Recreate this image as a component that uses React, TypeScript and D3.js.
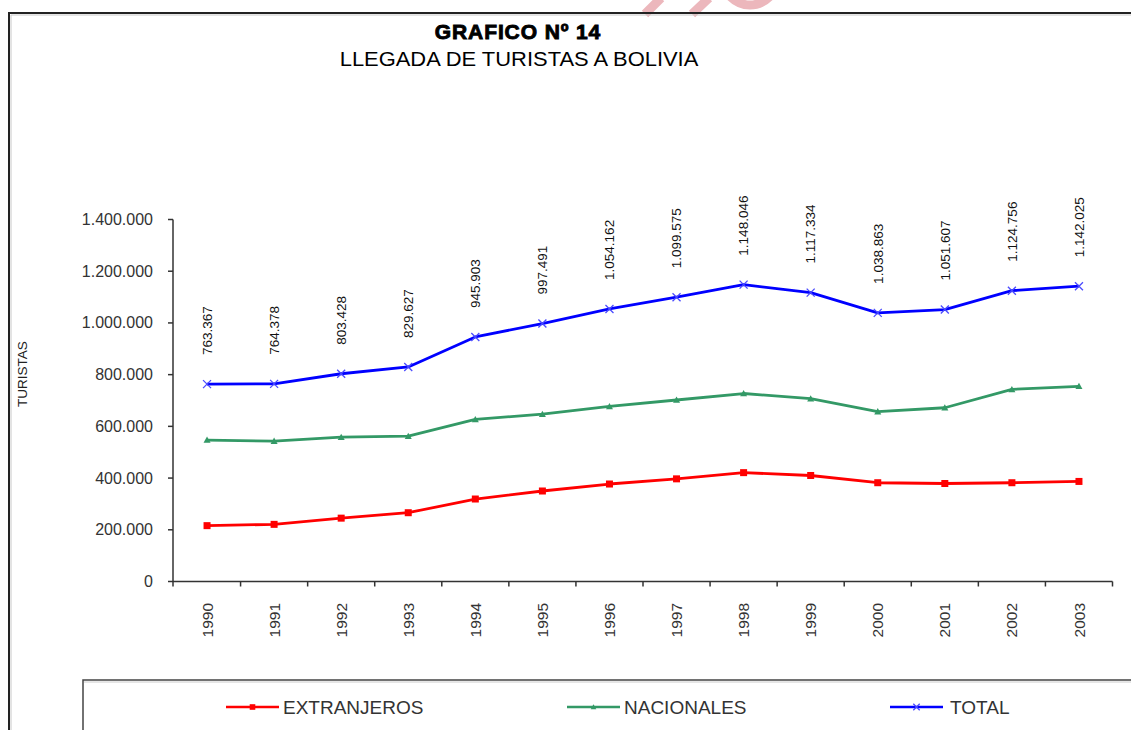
import React from "react";
import * as d3 from "d3";

const years = ["1990","1991","1992","1993","1994","1995","1996","1997","1998","1999","2000","2001","2002","2003"];
const extranjeros = [216000, 221000, 245000, 266000, 319000, 350000, 377000, 397000, 421000, 410000, 382000, 379000, 382000, 387000];
const nacionales = [547000, 543000, 558000, 562000, 627000, 647000, 677000, 702000, 727000, 707000, 657000, 672000, 743000, 755000];
const total = [763367, 764378, 803428, 829627, 945903, 997491, 1054162, 1099575, 1148046, 1117334, 1038863, 1051607, 1124756, 1142025];
const yTicks = [0, 200000, 400000, 600000, 800000, 1000000, 1200000, 1400000];
const seriesNames = ["EXTRANJEROS", "NACIONALES", "TOTAL"];
const seriesColors = ["#FF0000", "#339966", "#0000FF"];

const W = 1131;
const H = 730;
const FONT = "'Liberation Sans', Arial, Helvetica, sans-serif";

const locale = d3.formatLocale({ decimal: ",", thousands: ".", grouping: [3], currency: ["", ""] });
const fmt = locale.format(",d");

function Marker({ kind, x, y, color, s = 1 }: { kind: number; x: number; y: number; color: string; s?: number }) {
  if (kind === 0) {
    const a = 3.5 * s;
    return <rect x={x - a} y={y - a} width={2 * a} height={2 * a} fill={color} />;
  }
  if (kind === 1) {
    const a = 3.5 * s;
    return <path d={`M${x},${y - a} L${x + a},${y + a * 0.8} L${x - a},${y + a * 0.8} Z`} fill={color} />;
  }
  const a = 4 * s;
  return (
    <path
      d={`M${x - a},${y - a} L${x + a},${y + a} M${x - a},${y + a} L${x + a},${y - a}`}
      stroke="#4a4aff"
      strokeWidth={1.3}
      fill="none"
    />
  );
}

export default function App() {
  const x = d3.scaleBand<string>().domain(years).range([173.5, 1112.5]);
  const y = d3.scaleLinear().domain([0, 1400000]).range([581.5, 219.5]);
  const cx = (yr: string) => (x(yr) as number) + x.bandwidth() / 2;
  const axisX0 = 173;
  const axisX1 = 1112.5;
  const y0 = y(0);

  const series = [extranjeros, nacionales, total];
  const line = d3
    .line<number>()
    .x((_, i) => cx(years[i]))
    .y((d) => y(d));

  const legendX = [226, 567, 890];
  const legendY = 707;

  return (
    <svg
      width={W}
      height={H}
      style={{ position: "absolute", left: 0, top: 0, background: "#fff" }}
      fontFamily={FONT}
    >
      <rect x={0} y={0} width={W} height={H} fill="#fff" />
      {/* watermark fragments */}
      <g stroke="#ecb7bc" fill="none" strokeLinecap="butt">
        <line x1={645} y1={14} x2={661} y2={-2} strokeWidth={9} />
        <line x1={692} y1={14} x2={709} y2={-2} strokeWidth={9} />
        <circle cx={750} cy={-22} r={27} strokeWidth={9} />
      </g>
      {/* outer frame */}
      <line x1={9} y1={13} x2={W} y2={13} stroke="#222" strokeWidth={2} />
      <line x1={9} y1={12} x2={9} y2={H} stroke="#222" strokeWidth={2} />
      <line x1={11} y1={15} x2={W} y2={15} stroke="#c8c8c8" strokeWidth={1} />
      <line x1={11} y1={15} x2={11} y2={H} stroke="#c8c8c8" strokeWidth={1} />

      {/* titles */}
      <text
        x={518}
        y={38.5}
        textAnchor="middle"
        fontSize={21}
        fontWeight="bold"
        letterSpacing={0.9}
        fill="#000"
        stroke="#000"
        strokeWidth={0.9}
      >
        GRAFICO Nº 14
      </text>
      <text transform="translate(519,65.5) scale(1.07,1)" textAnchor="middle" fontSize={20.5} fill="#000">
        LLEGADA DE TURISTAS A BOLIVIA
      </text>

      {/* y axis title */}
      <text transform={`translate(27,374) rotate(-90)`} textAnchor="middle" fontSize={13.5} fill="#222">
        TURISTAS
      </text>

      {/* axes */}
      <g stroke="#333" strokeWidth={1.5}>
        <line x1={axisX0} y1={y(1400000)} x2={axisX0} y2={y0} />
        <line x1={axisX0} y1={y0} x2={axisX1} y2={y0} />
        {yTicks.map((t) => (
          <line key={t} x1={axisX0 - 5} y1={y(t)} x2={axisX0} y2={y(t)} />
        ))}
        {years.map((yr, i) => (
          <line key={yr} x1={i === 0 ? axisX0 : (x(yr) as number)} y1={y0} x2={i === 0 ? axisX0 : (x(yr) as number)} y2={y0 + 5} />
        ))}
        <line x1={axisX1} y1={y0} x2={axisX1} y2={y0 + 5} />
      </g>
      {yTicks.map((t) => (
        <text key={t} x={153} y={y(t) + 5.5} textAnchor="end" fontSize={16} fill="#333">
          {fmt(t)}
        </text>
      ))}
      {years.map((yr) => (
        <text key={yr} transform={`translate(${cx(yr) + 5.6},603) rotate(-90)`} textAnchor="end" fontSize={15.5} fill="#333">
          {yr}
        </text>
      ))}

      {/* series */}
      {series.map((vals, si) => (
        <g key={si}>
          <path d={line(vals) as string} fill="none" stroke={seriesColors[si]} strokeWidth={2.8} strokeLinejoin="round" />
          {vals.map((v, i) => (
            <Marker key={i} kind={si} x={cx(years[i])} y={y(v)} color={seriesColors[si]} />
          ))}
        </g>
      ))}

      {/* data labels for total */}
      {total.map((v, i) => (
        <text
          key={i}
          transform={`translate(${cx(years[i]) + 4.8},${y(v) - 29}) rotate(-90)`}
          textAnchor="start"
          fontSize={13.5}
          fill="#111"
        >
          {fmt(v)}
        </text>
      ))}

      {/* legend */}
      <rect x={83} y={680} width={W} height={100} fill="none" stroke="#444" strokeWidth={1.5} />
      <line x1={84} y1={682} x2={W} y2={682} stroke="#ccc" strokeWidth={1} />
      {seriesNames.map((n, i) => (
        <g key={n}>
          <line x1={legendX[i]} y1={legendY} x2={legendX[i] + 53} y2={legendY} stroke={seriesColors[i]} strokeWidth={2.6} />
          <Marker kind={i} x={legendX[i] + 26.5} y={legendY} color={seriesColors[i]} s={0.8} />
          <text x={legendX[i] + (i === 2 ? 60 : 57)} y={legendY + 6.8} fontSize={19} fill="#333">
            {n}
          </text>
        </g>
      ))}
    </svg>
  );
}
